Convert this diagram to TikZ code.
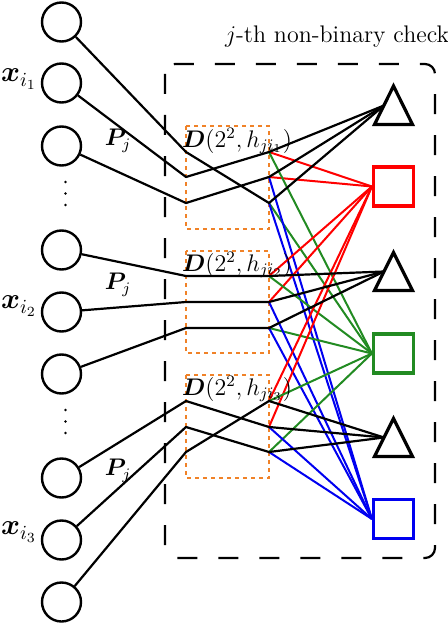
\documentclass[tikz,border=0pt]{standalone}
\usepackage{bm}
\definecolor{dorange}{RGB}{240,130,40}
\definecolor{dgreen}{RGB}{34,139,34}
\definecolor{dblue}{RGB}{0,0,240}
\begin{document}
\begin{tikzpicture}[x=0.5pt,y=-0.5pt,
  var/.style={draw,circle,line width=1.2pt,minimum size=19.5pt,inner sep=0pt},
  wire/.style={line width=1.1pt,line join=round},
  cwire/.style={line width=1pt},
  sq/.style={draw=#1,line width=1.6pt,minimum width=20pt,minimum height=19.5pt,inner sep=0pt},
  tri/.style={line width=1.6pt,line join=miter},
  frame/.style={line width=1.1pt,rounded corners=5pt,dash pattern=on 10pt off 10.5pt},
  obox/.style={draw=dorange,line width=1.2pt,dash pattern=on 2.2pt off 1.8pt},
  lab/.style={inner sep=0pt},
  dot/.style={fill=black}
]
\useasboundingbox (0,0) rectangle (448,626);

% frame
\draw[frame] (165,64) rectangle (435,558);
\node[lab,anchor=base] (title) at (337,43) {\large $j$-th non-binary check};

% variable nodes
\foreach \n/\y in {1/22,2/83,3/146,4/250,5/312,6/374,7/478,8/540,9/602}
  \node[var] (c\n) at (61.5,\y) {};
\foreach \y in {182,193.5,205,410,421.5,433}
  \fill[dot] (65.5,\y) circle (0.7pt);

\node[lab] (x1) at (19,79) {\Large$\bm{x}_{i_1}$};
\node[lab] (x2) at (19,306) {\Large$\bm{x}_{i_2}$};
\node[lab] (x3) at (19,532) {\Large$\bm{x}_{i_3}$};
\node[lab] (p1) at (118,141) {\large$\bm{P}_j$};
\node[lab] (p2) at (118,285) {\large$\bm{P}_j$};
\node[lab] (p3) at (118,471) {\large$\bm{P}_j$};

% D blocks
\draw[obox] (186,126) rectangle (269,229);
\draw[obox] (186,251) rectangle (269,353);
\draw[obox] (186,375) rectangle (269,478);

\foreach \b/\ya/\yb/\yc in {1/152/177/203,2/276/302/328,3/401/427/452}{
  \coordinate (L\b a) at (186,\ya);
  \coordinate (L\b b) at (186,\yb);
  \coordinate (L\b c) at (186,\yc);
  \coordinate (R\b a) at (269,\ya);
  \coordinate (R\b b) at (269,\yb);
  \coordinate (R\b c) at (269,\yc);
}

% check nodes
\node[sq=red] (S1) at (393.5,186.5) {};
\node[sq=dgreen] (S2) at (393.5,353.5) {};
\node[sq=dblue] (S3) at (393.5,519) {};
\draw[tri] (374.5,124.5) -- (393.5,86) -- (412.5,124.5) -- cycle;
\draw[tri] (374.5,290.5) -- (393.5,252.5) -- (412.5,290.5) -- cycle;
\draw[tri] (374.5,456.5) -- (393.5,418.5) -- (412.5,456.5) -- cycle;
\coordinate (T1) at (384,105.5);
\coordinate (T2) at (384,271.5);
\coordinate (T3) at (384,437.5);

% coloured connections
\foreach \b in {1,2,3}{
  \draw[cwire,red] (R\b a) -- (S1.west);
  \draw[cwire,red] (R\b b) -- (S1.west);
  \draw[cwire,dgreen] (R\b a) -- (S2.west);
  \draw[cwire,dgreen] (R\b c) -- (S2.west);
  \draw[cwire,dblue] (R\b b) -- (S3.west);
  \draw[cwire,dblue] (R\b c) -- (S3.west);
}

% black connections
\draw[wire] (c1) -- (L1a) -- (R1c) -- (T1);
\draw[wire] (c2) -- (L1b) -- (R1a) -- (T1);
\draw[wire] (c3) -- (L1c) -- (R1b) -- (T1);
\draw[wire] (c4) -- (L2a) -- (R2a) -- (T2);
\draw[wire] (c5) -- (L2b) -- (R2b) -- (T2);
\draw[wire] (c6) -- (L2c) -- (R2c) -- (T2);
\draw[wire] (c7) -- (L3a) -- (R3b) -- (T3);
\draw[wire] (c8) -- (L3b) -- (R3c) -- (T3);
\draw[wire] (c9) -- (L3c) -- (R3a) -- (T3);

% D labels
\node[lab] (d1) at (237,141) {\large$\bm{D}(2^2,h_{ji_1})$};
\node[lab] (d2) at (237,265) {\large$\bm{D}(2^2,h_{ji_2})$};
\node[lab] (d3) at (237,389) {\large$\bm{D}(2^2,h_{ji_3})$};
\end{tikzpicture}
\end{document}
